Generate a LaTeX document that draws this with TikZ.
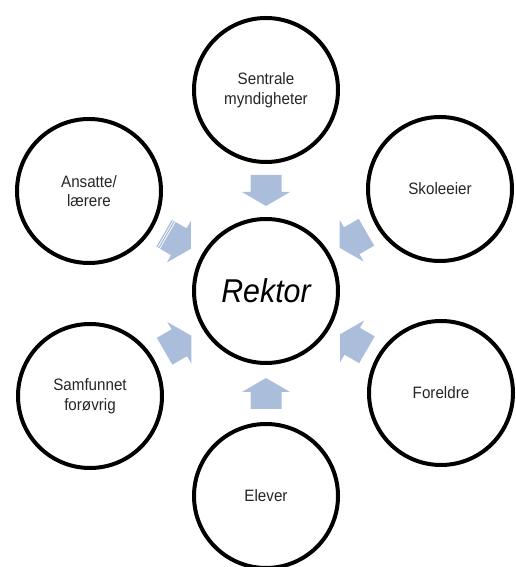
\documentclass[tikz,border=0pt]{standalone}
\usepackage{fontspec}
\setmainfont{Liberation Sans}[FakeStretch=0.92]
\usetikzlibrary{calc}
\definecolor{arrowblue}{HTML}{AABDDA}
\tikzset{
  actor/.style={circle, draw=black, line width=4pt, minimum size=144pt,
    inner sep=0pt, align=center, text=black!85,
    font=\fontsize{16.5}{19.5}\selectfont},
  hub/.style={actor, text=black, font=\fontsize{33}{38}\selectfont\itshape},
  % block arrow pointing along +x, centred on the origin
  pics/flow/.style={code={
    \fill[arrowblue] (-15.5,-15.5) -- (1.5,-15.5) -- (1.5,-24) -- (15.5,0)
      -- (1.5,24) -- (1.5,15.5) -- (-15.5,15.5) -- cycle;}},
  % the same arrow with a striped tail
  pics/stripedflow/.style={code={
    \fill[arrowblue] (-15.5,-15.5) rectangle (-14.3,15.5);
    \fill[arrowblue] (-13.3,-15.5) rectangle (-12.1,15.5);
    \fill[arrowblue] (-11.1,-15.5) -- (1.5,-15.5) -- (1.5,-24) -- (15.5,0)
      -- (1.5,24) -- (1.5,15.5) -- (-11.1,15.5) -- cycle;}}
}
\begin{document}
\begin{tikzpicture}[x=1pt,y=1pt]
\useasboundingbox (0,0) rectangle (515,567);

\node[hub]   (rektor)    at (266,276) {Rektor};
\node[actor] (sentral)   at (266,477) {Sentrale\\myndigheter};
\node[actor] (skoleeier) at (440,378) {Skoleeier};
\node[actor] (foreldre)  at (441,174) {Foreldre};
\node[actor] (elever)    at (266,71)  {Elever};
\node[actor] (samfunn)   at (90,171)  {Samfunnet\\forøvrig};
\node[actor] (ansatte)   at (89,376)  {Ansatte/\\lærere};

% arrows from each party in towards the principal
\pic[rotate=-90]  at ($(sentral)!0.5!(rektor)$)   {flow};
\pic[rotate=-150] at ($(skoleeier)!0.5!(rektor)$) {flow};
\pic[rotate=150]  at ($(foreldre)!0.5!(rektor)$)  {flow};
\pic[rotate=90]   at ($(elever)!0.5!(rektor)$)    {flow};
\pic[rotate=30]   at ($(samfunn)!0.5!(rektor)$)   {flow};
\pic[rotate=-30]  at ($(ansatte)!0.5!(rektor)$)   {stripedflow};
\end{tikzpicture}
\end{document}
